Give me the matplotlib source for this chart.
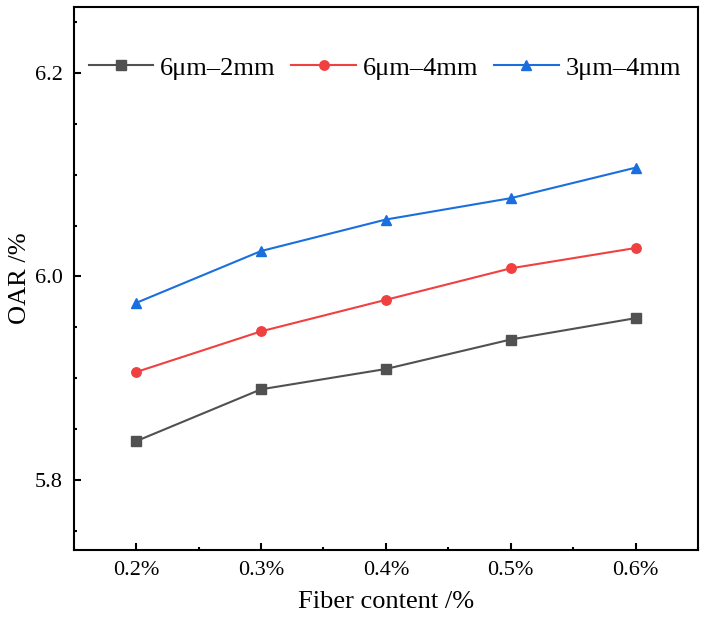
import matplotlib
matplotlib.use('Agg')
import matplotlib.pyplot as plt
from matplotlib.ticker import MultipleLocator, FixedLocator

plt.rcParams['font.family'] = ['Liberation Serif', 'DejaVu Serif']

# 数据
categories = ['0.2%', '0.3%', '0.4%', '0.5%', '0.6%']
s_6um_2mm = [5.838, 5.889, 5.909, 5.938, 5.959]
s_6um_4mm = [5.906, 5.946, 5.977, 6.008, 6.028]
s_3um_4mm = [5.974, 6.025, 6.056, 6.077, 6.107]
labels = ['6μm–2mm', '6μm–4mm', '3μm–4mm']

fig = plt.figure(figsize=(7.06, 6.22), dpi=100)
ax = fig.add_axes([0.1044, 0.1158, 0.8843, 0.8729])

x = list(range(len(categories)))
ax.plot(x, s_6um_2mm, color='#515151', marker='s', markersize=6.5, lw=1.5, label=labels[0])
ax.plot(x, s_6um_4mm, color='#F14040', marker='o', markersize=6.8, lw=1.5, label=labels[1])
ax.plot(x, s_3um_4mm, color='#1A6FDF', marker='^', markersize=7.5, lw=1.5, label=labels[2])

ax.set_xlim(-0.5, 4.5)
ax.set_ylim(5.731, 6.265)
ax.set_xticks(x)
ax.set_xticklabels(categories)
ax.xaxis.set_minor_locator(FixedLocator([i + 0.5 for i in range(-1, 5)]))
ax.yaxis.set_major_locator(FixedLocator([5.8, 6.0, 6.2]))
ax.yaxis.set_minor_locator(MultipleLocator(0.05))
ax.set_yticklabels(['5.8', '6.0', '6.2'])

for sp in ax.spines.values():
    sp.set_linewidth(1.5)
ax.tick_params(which='both', direction='in', width=1.5, labelsize=16)
ax.tick_params(which='major', length=5, pad=8)
ax.tick_params(which='minor', length=2.5)
ax.tick_params(axis='y', which='both', right=False)
ax.tick_params(axis='x', which='both', top=False)

ax.set_xlabel('Fiber content /%', fontsize=19, labelpad=8)
ax.set_ylabel('OAR /%', fontsize=19, labelpad=3)

ax.legend(loc='center left', bbox_to_anchor=(0.024, 0.888), ncol=3, frameon=False,
          fontsize=19, handlelength=2.45, handletextpad=0.25, columnspacing=0.6,
          borderaxespad=0, borderpad=0)

fig.savefig('out.png', dpi=100)
